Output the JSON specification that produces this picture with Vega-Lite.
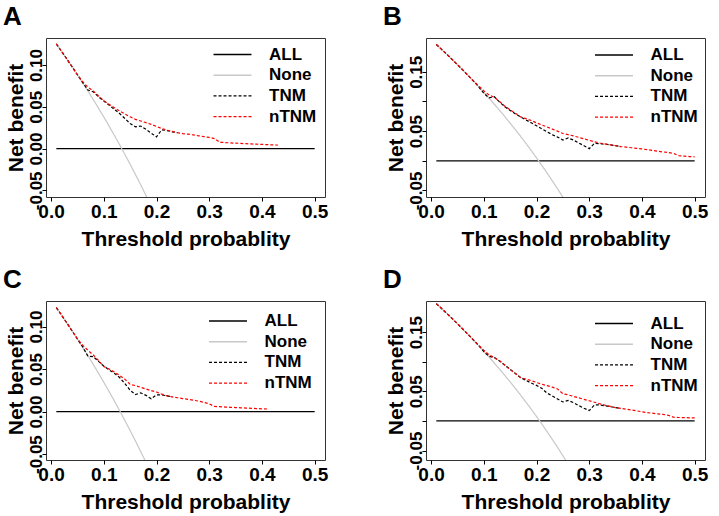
{
  "$schema": "https://vega.github.io/schema/vega-lite/v6.json",
  "background": "white",
  "padding": {"left": 2, "top": 3, "right": 5, "bottom": 5},
  "config": {
    "view": {"stroke": "#333", "strokeWidth": 1, "strokeOpacity": 1},
    "axis": {"domain": false, "grid": false, "ticks": true, "tickColor": "#000", "tickSize": 4, "tickWidth": 1,
      "labelFont": "Liberation Sans", "labelFontWeight": "bold", "labelFontSize": 19, "labelColor": "#000",
      "titleFont": "Liberation Sans", "titleFontWeight": "bold", "titleFontSize": 21, "titleColor": "#000"},
    "axisX": {"labelPadding": 1, "titlePadding": 7},
    "axisY": {"labelAngle": -90, "labelAlign": "center", "labelBaseline": "alphabetic", "labelPadding": 1, "titlePadding": 1, "labelFontSize": 17},
    "legend": {"labelFont": "Liberation Sans", "labelFontWeight": "bold", "labelFontSize": 17, "labelColor": "#000",
      "symbolType": "M-4,0H4", "symbolSize": 90, "symbolStrokeWidth": 1.4, "labelOffset": 28, "rowPadding": 2.7, "padding": 0, "title": null},
    "title": {"font": "Liberation Sans", "fontWeight": "bold", "fontSize": 26, "color": "#000", "anchor": "start", "frame": "bounds", "baseline": "alphabetic", "offset": 8, "dx": -2}
  },
  "datasets": {
    "A": [
      {"s":"ALL","t":0.01,"nb":0},{"s":"ALL","t":0.5,"nb":0},
      {"s":"None","t":0.01,"nb":0.1253},{"s":"None","t":0.02,"nb":0.1163},{"s":"None","t":0.03,"nb":0.1072},{"s":"None","t":0.04,"nb":0.0979},{"s":"None","t":0.05,"nb":0.0884},{"s":"None","t":0.06,"nb":0.0787},{"s":"None","t":0.07,"nb":0.0688},{"s":"None","t":0.08,"nb":0.0587},{"s":"None","t":0.09,"nb":0.0484},{"s":"None","t":0.10,"nb":0.0378},{"s":"None","t":0.11,"nb":0.0270},{"s":"None","t":0.12,"nb":0.0159},{"s":"None","t":0.13,"nb":0.0046},{"s":"None","t":0.14,"nb":-0.0070},{"s":"None","t":0.15,"nb":-0.0188},{"s":"None","t":0.16,"nb":-0.0310},{"s":"None","t":0.17,"nb":-0.0434},{"s":"None","t":0.18,"nb":-0.0561},{"s":"None","t":0.19,"nb":-0.0691},
      {"s":"TNM","t":0.01,"nb":0.1253},{"s":"TNM","t":0.02,"nb":0.1163},{"s":"TNM","t":0.03,"nb":0.1072},{"s":"TNM","t":0.04,"nb":0.0979},{"s":"TNM","t":0.05,"nb":0.0884},{"s":"TNM","t":0.06,"nb":0.0790},{"s":"TNM","t":0.07,"nb":0.0700},{"s":"TNM","t":0.08,"nb":0.0680},{"s":"TNM","t":0.09,"nb":0.0620},{"s":"TNM","t":0.10,"nb":0.0570},{"s":"TNM","t":0.11,"nb":0.0520},{"s":"TNM","t":0.12,"nb":0.0470},{"s":"TNM","t":0.13,"nb":0.0420},{"s":"TNM","t":0.14,"nb":0.0360},{"s":"TNM","t":0.15,"nb":0.0300},{"s":"TNM","t":0.16,"nb":0.0260},{"s":"TNM","t":0.17,"nb":0.0270},{"s":"TNM","t":0.18,"nb":0.0230},{"s":"TNM","t":0.19,"nb":0.0185},{"s":"TNM","t":0.20,"nb":0.0140},{"s":"TNM","t":0.21,"nb":0.0225},{"s":"TNM","t":0.22,"nb":0.0215},{"s":"TNM","t":0.23,"nb":0.0200},{"s":"TNM","t":0.24,"nb":0.0190},
      {"s":"nTNM","t":0.01,"nb":0.1253},{"s":"nTNM","t":0.02,"nb":0.1163},{"s":"nTNM","t":0.03,"nb":0.1072},{"s":"nTNM","t":0.04,"nb":0.0979},{"s":"nTNM","t":0.05,"nb":0.0884},{"s":"nTNM","t":0.06,"nb":0.0800},{"s":"nTNM","t":0.07,"nb":0.0735},{"s":"nTNM","t":0.08,"nb":0.0690},{"s":"nTNM","t":0.09,"nb":0.0630},{"s":"nTNM","t":0.10,"nb":0.0575},{"s":"nTNM","t":0.11,"nb":0.0530},{"s":"nTNM","t":0.12,"nb":0.0490},{"s":"nTNM","t":0.13,"nb":0.0450},{"s":"nTNM","t":0.14,"nb":0.0415},{"s":"nTNM","t":0.15,"nb":0.0380},{"s":"nTNM","t":0.16,"nb":0.0350},{"s":"nTNM","t":0.17,"nb":0.0330},{"s":"nTNM","t":0.18,"nb":0.0310},{"s":"nTNM","t":0.19,"nb":0.0290},{"s":"nTNM","t":0.20,"nb":0.0265},{"s":"nTNM","t":0.21,"nb":0.0240},{"s":"nTNM","t":0.22,"nb":0.0220},{"s":"nTNM","t":0.23,"nb":0.0205},{"s":"nTNM","t":0.24,"nb":0.0190},{"s":"nTNM","t":0.25,"nb":0.0180},{"s":"nTNM","t":0.26,"nb":0.0172},{"s":"nTNM","t":0.27,"nb":0.0163},{"s":"nTNM","t":0.28,"nb":0.0153},{"s":"nTNM","t":0.29,"nb":0.0143},{"s":"nTNM","t":0.30,"nb":0.0133},{"s":"nTNM","t":0.31,"nb":0.0120},{"s":"nTNM","t":0.32,"nb":0.0075},{"s":"nTNM","t":0.33,"nb":0.0072},{"s":"nTNM","t":0.34,"nb":0.0068},{"s":"nTNM","t":0.35,"nb":0.0065},{"s":"nTNM","t":0.36,"nb":0.0062},{"s":"nTNM","t":0.37,"nb":0.0058},{"s":"nTNM","t":0.38,"nb":0.0055},{"s":"nTNM","t":0.39,"nb":0.0052},{"s":"nTNM","t":0.40,"nb":0.0050},{"s":"nTNM","t":0.41,"nb":0.0047},{"s":"nTNM","t":0.42,"nb":0.0044},{"s":"nTNM","t":0.43,"nb":0.0041}
    ],
    "B": [
      {"s":"ALL","t":0.01,"nb":0},{"s":"ALL","t":0.5,"nb":0},
      {"s":"None","t":0.01,"nb":0.1960},{"s":"None","t":0.02,"nb":0.1878},{"s":"None","t":0.03,"nb":0.1794},{"s":"None","t":0.04,"nb":0.1708},{"s":"None","t":0.05,"nb":0.1621},{"s":"None","t":0.06,"nb":0.1532},{"s":"None","t":0.07,"nb":0.1441},{"s":"None","t":0.08,"nb":0.1348},{"s":"None","t":0.09,"nb":0.1253},{"s":"None","t":0.10,"nb":0.1156},{"s":"None","t":0.11,"nb":0.1056},{"s":"None","t":0.12,"nb":0.0955},{"s":"None","t":0.13,"nb":0.0851},{"s":"None","t":0.14,"nb":0.0744},{"s":"None","t":0.15,"nb":0.0635},{"s":"None","t":0.16,"nb":0.0524},{"s":"None","t":0.17,"nb":0.0410},{"s":"None","t":0.18,"nb":0.0293},{"s":"None","t":0.19,"nb":0.0173},{"s":"None","t":0.20,"nb":0.0050},{"s":"None","t":0.21,"nb":-0.0076},{"s":"None","t":0.22,"nb":-0.0205},{"s":"None","t":0.23,"nb":-0.0338},{"s":"None","t":0.24,"nb":-0.0474},{"s":"None","t":0.25,"nb":-0.0613},{"s":"None","t":0.26,"nb":-0.0757},
      {"s":"TNM","t":0.01,"nb":0.1960},{"s":"TNM","t":0.02,"nb":0.1878},{"s":"TNM","t":0.03,"nb":0.1794},{"s":"TNM","t":0.04,"nb":0.1708},{"s":"TNM","t":0.05,"nb":0.1621},{"s":"TNM","t":0.06,"nb":0.1532},{"s":"TNM","t":0.07,"nb":0.1441},{"s":"TNM","t":0.08,"nb":0.1348},{"s":"TNM","t":0.09,"nb":0.1250},{"s":"TNM","t":0.10,"nb":0.1140},{"s":"TNM","t":0.11,"nb":0.1060},{"s":"TNM","t":0.12,"nb":0.1080},{"s":"TNM","t":0.13,"nb":0.0990},{"s":"TNM","t":0.14,"nb":0.0910},{"s":"TNM","t":0.15,"nb":0.0850},{"s":"TNM","t":0.16,"nb":0.0790},{"s":"TNM","t":0.17,"nb":0.0740},{"s":"TNM","t":0.18,"nb":0.0690},{"s":"TNM","t":0.19,"nb":0.0640},{"s":"TNM","t":0.20,"nb":0.0590},{"s":"TNM","t":0.21,"nb":0.0540},{"s":"TNM","t":0.22,"nb":0.0490},{"s":"TNM","t":0.23,"nb":0.0440},{"s":"TNM","t":0.24,"nb":0.0400},{"s":"TNM","t":0.25,"nb":0.0350},{"s":"TNM","t":0.26,"nb":0.0385},{"s":"TNM","t":0.27,"nb":0.0350},{"s":"TNM","t":0.28,"nb":0.0300},{"s":"TNM","t":0.29,"nb":0.0255},{"s":"TNM","t":0.30,"nb":0.0205},{"s":"TNM","t":0.31,"nb":0.0295},{"s":"TNM","t":0.32,"nb":0.0290},{"s":"TNM","t":0.33,"nb":0.0280},{"s":"TNM","t":0.34,"nb":0.0270},{"s":"TNM","t":0.35,"nb":0.0255},{"s":"TNM","t":0.36,"nb":0.0240},
      {"s":"nTNM","t":0.01,"nb":0.1960},{"s":"nTNM","t":0.02,"nb":0.1878},{"s":"nTNM","t":0.03,"nb":0.1794},{"s":"nTNM","t":0.04,"nb":0.1708},{"s":"nTNM","t":0.05,"nb":0.1621},{"s":"nTNM","t":0.06,"nb":0.1532},{"s":"nTNM","t":0.07,"nb":0.1441},{"s":"nTNM","t":0.08,"nb":0.1350},{"s":"nTNM","t":0.09,"nb":0.1265},{"s":"nTNM","t":0.10,"nb":0.1180},{"s":"nTNM","t":0.11,"nb":0.1110},{"s":"nTNM","t":0.12,"nb":0.1070},{"s":"nTNM","t":0.13,"nb":0.1000},{"s":"nTNM","t":0.14,"nb":0.0920},{"s":"nTNM","t":0.15,"nb":0.0860},{"s":"nTNM","t":0.16,"nb":0.0800},{"s":"nTNM","t":0.17,"nb":0.0740},{"s":"nTNM","t":0.18,"nb":0.0710},{"s":"nTNM","t":0.19,"nb":0.0680},{"s":"nTNM","t":0.20,"nb":0.0640},{"s":"nTNM","t":0.21,"nb":0.0605},{"s":"nTNM","t":0.22,"nb":0.0570},{"s":"nTNM","t":0.23,"nb":0.0535},{"s":"nTNM","t":0.24,"nb":0.0500},{"s":"nTNM","t":0.25,"nb":0.0460},{"s":"nTNM","t":0.26,"nb":0.0440},{"s":"nTNM","t":0.27,"nb":0.0420},{"s":"nTNM","t":0.28,"nb":0.0395},{"s":"nTNM","t":0.29,"nb":0.0370},{"s":"nTNM","t":0.30,"nb":0.0345},{"s":"nTNM","t":0.31,"nb":0.0320},{"s":"nTNM","t":0.32,"nb":0.0300},{"s":"nTNM","t":0.33,"nb":0.0285},{"s":"nTNM","t":0.34,"nb":0.0270},{"s":"nTNM","t":0.35,"nb":0.0255},{"s":"nTNM","t":0.36,"nb":0.0240},{"s":"nTNM","t":0.37,"nb":0.0230},{"s":"nTNM","t":0.38,"nb":0.0220},{"s":"nTNM","t":0.39,"nb":0.0210},{"s":"nTNM","t":0.40,"nb":0.0200},{"s":"nTNM","t":0.41,"nb":0.0188},{"s":"nTNM","t":0.42,"nb":0.0175},{"s":"nTNM","t":0.43,"nb":0.0160},{"s":"nTNM","t":0.44,"nb":0.0150},{"s":"nTNM","t":0.45,"nb":0.0140},{"s":"nTNM","t":0.46,"nb":0.0125},{"s":"nTNM","t":0.47,"nb":0.0085},{"s":"nTNM","t":0.48,"nb":0.0078},{"s":"nTNM","t":0.49,"nb":0.0072},{"s":"nTNM","t":0.50,"nb":0.0067}
    ],
    "C": [
      {"s":"ALL","t":0.01,"nb":0},{"s":"ALL","t":0.5,"nb":0},
      {"s":"None","t":0.01,"nb":0.1222},{"s":"None","t":0.02,"nb":0.1133},{"s":"None","t":0.03,"nb":0.1041},{"s":"None","t":0.04,"nb":0.0948},{"s":"None","t":0.05,"nb":0.0853},{"s":"None","t":0.06,"nb":0.0755},{"s":"None","t":0.07,"nb":0.0656},{"s":"None","t":0.08,"nb":0.0554},{"s":"None","t":0.09,"nb":0.0451},{"s":"None","t":0.10,"nb":0.0344},{"s":"None","t":0.11,"nb":0.0236},{"s":"None","t":0.12,"nb":0.0125},{"s":"None","t":0.13,"nb":0.0011},{"s":"None","t":0.14,"nb":-0.0105},{"s":"None","t":0.15,"nb":-0.0224},{"s":"None","t":0.16,"nb":-0.0345},{"s":"None","t":0.17,"nb":-0.0470},{"s":"None","t":0.18,"nb":-0.0598},{"s":"None","t":0.19,"nb":-0.0728},
      {"s":"TNM","t":0.01,"nb":0.1222},{"s":"TNM","t":0.02,"nb":0.1133},{"s":"TNM","t":0.03,"nb":0.1041},{"s":"TNM","t":0.04,"nb":0.0948},{"s":"TNM","t":0.05,"nb":0.0853},{"s":"TNM","t":0.06,"nb":0.0760},{"s":"TNM","t":0.07,"nb":0.0650},{"s":"TNM","t":0.08,"nb":0.0645},{"s":"TNM","t":0.09,"nb":0.0590},{"s":"TNM","t":0.10,"nb":0.0535},{"s":"TNM","t":0.11,"nb":0.0490},{"s":"TNM","t":0.12,"nb":0.0450},{"s":"TNM","t":0.13,"nb":0.0400},{"s":"TNM","t":0.14,"nb":0.0330},{"s":"TNM","t":0.15,"nb":0.0250},{"s":"TNM","t":0.16,"nb":0.0200},{"s":"TNM","t":0.17,"nb":0.0220},{"s":"TNM","t":0.18,"nb":0.0190},{"s":"TNM","t":0.19,"nb":0.0150},{"s":"TNM","t":0.20,"nb":0.0195},{"s":"TNM","t":0.21,"nb":0.0195},{"s":"TNM","t":0.22,"nb":0.0185},{"s":"TNM","t":0.23,"nb":0.0172},
      {"s":"nTNM","t":0.01,"nb":0.1222},{"s":"nTNM","t":0.02,"nb":0.1133},{"s":"nTNM","t":0.03,"nb":0.1041},{"s":"nTNM","t":0.04,"nb":0.0948},{"s":"nTNM","t":0.05,"nb":0.0853},{"s":"nTNM","t":0.06,"nb":0.0780},{"s":"nTNM","t":0.07,"nb":0.0720},{"s":"nTNM","t":0.08,"nb":0.0665},{"s":"nTNM","t":0.09,"nb":0.0600},{"s":"nTNM","t":0.10,"nb":0.0530},{"s":"nTNM","t":0.11,"nb":0.0500},{"s":"nTNM","t":0.12,"nb":0.0465},{"s":"nTNM","t":0.13,"nb":0.0425},{"s":"nTNM","t":0.14,"nb":0.0380},{"s":"nTNM","t":0.15,"nb":0.0320},{"s":"nTNM","t":0.16,"nb":0.0305},{"s":"nTNM","t":0.17,"nb":0.0285},{"s":"nTNM","t":0.18,"nb":0.0265},{"s":"nTNM","t":0.19,"nb":0.0245},{"s":"nTNM","t":0.20,"nb":0.0230},{"s":"nTNM","t":0.21,"nb":0.0205},{"s":"nTNM","t":0.22,"nb":0.0185},{"s":"nTNM","t":0.23,"nb":0.0172},{"s":"nTNM","t":0.24,"nb":0.0162},{"s":"nTNM","t":0.25,"nb":0.0152},{"s":"nTNM","t":0.26,"nb":0.0143},{"s":"nTNM","t":0.27,"nb":0.0133},{"s":"nTNM","t":0.28,"nb":0.0122},{"s":"nTNM","t":0.29,"nb":0.0108},{"s":"nTNM","t":0.30,"nb":0.0090},{"s":"nTNM","t":0.31,"nb":0.0060},{"s":"nTNM","t":0.32,"nb":0.0057},{"s":"nTNM","t":0.33,"nb":0.0053},{"s":"nTNM","t":0.34,"nb":0.0050},{"s":"nTNM","t":0.35,"nb":0.0047},{"s":"nTNM","t":0.36,"nb":0.0044},{"s":"nTNM","t":0.37,"nb":0.0041},{"s":"nTNM","t":0.38,"nb":0.0038},{"s":"nTNM","t":0.39,"nb":0.0035},{"s":"nTNM","t":0.40,"nb":0.0032},{"s":"nTNM","t":0.41,"nb":0.0030}
    ],
    "D": [
      {"s":"ALL","t":0.01,"nb":0},{"s":"ALL","t":0.5,"nb":0},
      {"s":"None","t":0.01,"nb":0.1980},{"s":"None","t":0.02,"nb":0.1898},{"s":"None","t":0.03,"nb":0.1814},{"s":"None","t":0.04,"nb":0.1729},{"s":"None","t":0.05,"nb":0.1642},{"s":"None","t":0.06,"nb":0.1553},{"s":"None","t":0.07,"nb":0.1462},{"s":"None","t":0.08,"nb":0.1370},{"s":"None","t":0.09,"nb":0.1275},{"s":"None","t":0.10,"nb":0.1178},{"s":"None","t":0.11,"nb":0.1079},{"s":"None","t":0.12,"nb":0.0977},{"s":"None","t":0.13,"nb":0.0874},{"s":"None","t":0.14,"nb":0.0767},{"s":"None","t":0.15,"nb":0.0659},{"s":"None","t":0.16,"nb":0.0548},{"s":"None","t":0.17,"nb":0.0434},{"s":"None","t":0.18,"nb":0.0317},{"s":"None","t":0.19,"nb":0.0198},{"s":"None","t":0.20,"nb":0.0075},{"s":"None","t":0.21,"nb":-0.0051},{"s":"None","t":0.22,"nb":-0.0180},{"s":"None","t":0.23,"nb":-0.0312},{"s":"None","t":0.24,"nb":-0.0447},{"s":"None","t":0.25,"nb":-0.0587},{"s":"None","t":0.26,"nb":-0.0730},
      {"s":"TNM","t":0.01,"nb":0.1980},{"s":"TNM","t":0.02,"nb":0.1898},{"s":"TNM","t":0.03,"nb":0.1814},{"s":"TNM","t":0.04,"nb":0.1729},{"s":"TNM","t":0.05,"nb":0.1642},{"s":"TNM","t":0.06,"nb":0.1553},{"s":"TNM","t":0.07,"nb":0.1462},{"s":"TNM","t":0.08,"nb":0.1370},{"s":"TNM","t":0.09,"nb":0.1275},{"s":"TNM","t":0.10,"nb":0.1170},{"s":"TNM","t":0.11,"nb":0.1090},{"s":"TNM","t":0.12,"nb":0.1070},{"s":"TNM","t":0.13,"nb":0.1010},{"s":"TNM","t":0.14,"nb":0.0940},{"s":"TNM","t":0.15,"nb":0.0870},{"s":"TNM","t":0.16,"nb":0.0800},{"s":"TNM","t":0.17,"nb":0.0730},{"s":"TNM","t":0.18,"nb":0.0685},{"s":"TNM","t":0.19,"nb":0.0640},{"s":"TNM","t":0.20,"nb":0.0600},{"s":"TNM","t":0.21,"nb":0.0550},{"s":"TNM","t":0.22,"nb":0.0470},{"s":"TNM","t":0.23,"nb":0.0420},{"s":"TNM","t":0.24,"nb":0.0370},{"s":"TNM","t":0.25,"nb":0.0320},{"s":"TNM","t":0.26,"nb":0.0345},{"s":"TNM","t":0.27,"nb":0.0310},{"s":"TNM","t":0.28,"nb":0.0260},{"s":"TNM","t":0.29,"nb":0.0215},{"s":"TNM","t":0.30,"nb":0.0175},{"s":"TNM","t":0.31,"nb":0.0270},{"s":"TNM","t":0.32,"nb":0.0270},{"s":"TNM","t":0.33,"nb":0.0255},{"s":"TNM","t":0.34,"nb":0.0240},{"s":"TNM","t":0.35,"nb":0.0225},{"s":"TNM","t":0.36,"nb":0.0210},
      {"s":"nTNM","t":0.01,"nb":0.1980},{"s":"nTNM","t":0.02,"nb":0.1898},{"s":"nTNM","t":0.03,"nb":0.1814},{"s":"nTNM","t":0.04,"nb":0.1729},{"s":"nTNM","t":0.05,"nb":0.1642},{"s":"nTNM","t":0.06,"nb":0.1553},{"s":"nTNM","t":0.07,"nb":0.1462},{"s":"nTNM","t":0.08,"nb":0.1370},{"s":"nTNM","t":0.09,"nb":0.1280},{"s":"nTNM","t":0.10,"nb":0.1195},{"s":"nTNM","t":0.11,"nb":0.1115},{"s":"nTNM","t":0.12,"nb":0.1070},{"s":"nTNM","t":0.13,"nb":0.1015},{"s":"nTNM","t":0.14,"nb":0.0945},{"s":"nTNM","t":0.15,"nb":0.0870},{"s":"nTNM","t":0.16,"nb":0.0800},{"s":"nTNM","t":0.17,"nb":0.0730},{"s":"nTNM","t":0.18,"nb":0.0705},{"s":"nTNM","t":0.19,"nb":0.0680},{"s":"nTNM","t":0.20,"nb":0.0650},{"s":"nTNM","t":0.21,"nb":0.0620},{"s":"nTNM","t":0.22,"nb":0.0595},{"s":"nTNM","t":0.23,"nb":0.0570},{"s":"nTNM","t":0.24,"nb":0.0540},{"s":"nTNM","t":0.25,"nb":0.0460},{"s":"nTNM","t":0.26,"nb":0.0440},{"s":"nTNM","t":0.27,"nb":0.0415},{"s":"nTNM","t":0.28,"nb":0.0390},{"s":"nTNM","t":0.29,"nb":0.0365},{"s":"nTNM","t":0.30,"nb":0.0340},{"s":"nTNM","t":0.31,"nb":0.0315},{"s":"nTNM","t":0.32,"nb":0.0290},{"s":"nTNM","t":0.33,"nb":0.0265},{"s":"nTNM","t":0.34,"nb":0.0245},{"s":"nTNM","t":0.35,"nb":0.0225},{"s":"nTNM","t":0.36,"nb":0.0210},{"s":"nTNM","t":0.37,"nb":0.0198},{"s":"nTNM","t":0.38,"nb":0.0185},{"s":"nTNM","t":0.39,"nb":0.0170},{"s":"nTNM","t":0.40,"nb":0.0155},{"s":"nTNM","t":0.41,"nb":0.0140},{"s":"nTNM","t":0.42,"nb":0.0130},{"s":"nTNM","t":0.43,"nb":0.0120},{"s":"nTNM","t":0.44,"nb":0.0110},{"s":"nTNM","t":0.45,"nb":0.0095},{"s":"nTNM","t":0.46,"nb":0.0062},{"s":"nTNM","t":0.47,"nb":0.0058},{"s":"nTNM","t":0.48,"nb":0.0055},{"s":"nTNM","t":0.49,"nb":0.0053},{"s":"nTNM","t":0.50,"nb":0.0051}
    ]
  },
  "columns": 2,
  "spacing": {"row": 104, "column": 101},
  "bounds": "flush",
  "resolve": {
    "scale": {"x": "independent", "y": "independent", "color": "independent", "strokeDash": "independent"},
    "legend": {"color": "independent", "strokeDash": "independent"},
    "axis": {"x": "independent", "y": "independent"}
  },
  "concat": [
    {
      "title": {"text": "A"},
      "width": 279, "height": 159,
      "view": {"stroke": "#333", "strokeWidth": 1},
      "data": {"name": "A"},
      "mark": {"type": "line", "clip": true, "strokeWidth": 1.2},
      "encoding": {
        "x": {"field": "t", "type": "quantitative", "title": "Threshold probablity",
          "scale": {"domain": [-0.0096, 0.5196], "nice": false, "zero": false},
          "axis": {"values": [0, 0.1, 0.2, 0.3, 0.4, 0.5], "format": ".1f"}},
        "y": {"field": "nb", "type": "quantitative", "title": "Net benefit",
          "scale": {"domain": [-0.058, 0.1324], "nice": false, "zero": false},
          "axis": {"values": [-0.05, 0, 0.05, 0.1], "labelExpr": "datum.value < 0 ? '-' + format(-datum.value, '.2f') : format(datum.value, '.2f')"}},
        "color": {"field": "s", "type": "nominal",
          "scale": {"domain": ["ALL", "None", "TNM", "nTNM"], "range": ["#000000", "#c8c8c8", "#000000", "#ff0000"]},
          "legend": {"orient": "none", "legendX": 178, "legendY": 8}},
        "strokeDash": {"field": "s", "type": "nominal",
          "scale": {"domain": ["ALL", "None", "TNM", "nTNM"], "range": [[1, 0], [1, 0], [3, 2], [3, 2]]},
          "legend": {"orient": "none", "legendX": 178, "legendY": 8}}
      }
    },
    {
      "title": {"text": "B"},
      "width": 279, "height": 159,
      "view": {"stroke": "#333", "strokeWidth": 1},
      "data": {"name": "B"},
      "mark": {"type": "line", "clip": true, "strokeWidth": 1.2},
      "encoding": {
        "x": {"field": "t", "type": "quantitative", "title": "Threshold probablity",
          "scale": {"domain": [-0.0096, 0.5196], "nice": false, "zero": false},
          "axis": {"values": [0, 0.1, 0.2, 0.3, 0.4, 0.5], "format": ".1f"}},
        "y": {"field": "nb", "type": "quantitative", "title": "Net benefit",
          "scale": {"domain": [-0.061, 0.207], "nice": false, "zero": false},
          "axis": {"values": [-0.05, 0, 0.05, 0.1, 0.15], "labelExpr": "abs(datum.value) < 0.001 || abs(datum.value - 0.1) < 0.001 ? '' : (datum.value < 0 ? '-' + format(-datum.value, '.2f') : format(datum.value, '.2f'))"}},
        "color": {"field": "s", "type": "nominal",
          "scale": {"domain": ["ALL", "None", "TNM", "nTNM"], "range": ["#000000", "#c8c8c8", "#000000", "#ff0000"]},
          "legend": {"orient": "none", "legendX": 179.5, "legendY": 8.5}},
        "strokeDash": {"field": "s", "type": "nominal",
          "scale": {"domain": ["ALL", "None", "TNM", "nTNM"], "range": [[1, 0], [1, 0], [3, 2], [3, 2]]},
          "legend": {"orient": "none", "legendX": 179.5, "legendY": 8.5}}
      }
    },
    {
      "title": {"text": "C"},
      "width": 279, "height": 159,
      "view": {"stroke": "#333", "strokeWidth": 1},
      "data": {"name": "C"},
      "mark": {"type": "line", "clip": true, "strokeWidth": 1.2},
      "encoding": {
        "x": {"field": "t", "type": "quantitative", "title": "Threshold probablity",
          "scale": {"domain": [-0.0096, 0.5196], "nice": false, "zero": false},
          "axis": {"values": [0, 0.1, 0.2, 0.3, 0.4, 0.5], "format": ".1f"}},
        "y": {"field": "nb", "type": "quantitative", "title": "Net benefit",
          "scale": {"domain": [-0.057, 0.130], "nice": false, "zero": false},
          "axis": {"values": [-0.05, 0, 0.05, 0.1], "labelExpr": "datum.value < 0 ? '-' + format(-datum.value, '.2f') : format(datum.value, '.2f')"}},
        "color": {"field": "s", "type": "nominal",
          "scale": {"domain": ["ALL", "None", "TNM", "nTNM"], "range": ["#000000", "#c8c8c8", "#000000", "#ff0000"]},
          "legend": {"orient": "none", "legendX": 173.5, "legendY": 11.5}},
        "strokeDash": {"field": "s", "type": "nominal",
          "scale": {"domain": ["ALL", "None", "TNM", "nTNM"], "range": [[1, 0], [1, 0], [3, 2], [3, 2]]},
          "legend": {"orient": "none", "legendX": 173.5, "legendY": 11.5}}
      }
    },
    {
      "title": {"text": "D"},
      "width": 279, "height": 159,
      "view": {"stroke": "#333", "strokeWidth": 1},
      "data": {"name": "D"},
      "mark": {"type": "line", "clip": true, "strokeWidth": 1.2},
      "encoding": {
        "x": {"field": "t", "type": "quantitative", "title": "Threshold probablity",
          "scale": {"domain": [-0.0096, 0.5196], "nice": false, "zero": false},
          "axis": {"values": [0, 0.1, 0.2, 0.3, 0.4, 0.5], "format": ".1f"}},
        "y": {"field": "nb", "type": "quantitative", "title": "Net benefit",
          "scale": {"domain": [-0.066, 0.2025], "nice": false, "zero": false},
          "axis": {"values": [-0.05, 0, 0.05, 0.1, 0.15], "labelExpr": "abs(datum.value) < 0.001 || abs(datum.value - 0.1) < 0.001 ? '' : (datum.value < 0 ? '-' + format(-datum.value, '.2f') : format(datum.value, '.2f'))"}},
        "color": {"field": "s", "type": "nominal",
          "scale": {"domain": ["ALL", "None", "TNM", "nTNM"], "range": ["#000000", "#c8c8c8", "#000000", "#ff0000"]},
          "legend": {"orient": "none", "legendX": 179.5, "legendY": 14}},
        "strokeDash": {"field": "s", "type": "nominal",
          "scale": {"domain": ["ALL", "None", "TNM", "nTNM"], "range": [[1, 0], [1, 0], [3, 2], [3, 2]]},
          "legend": {"orient": "none", "legendX": 179.5, "legendY": 14}}
      }
    }
  ]
}
